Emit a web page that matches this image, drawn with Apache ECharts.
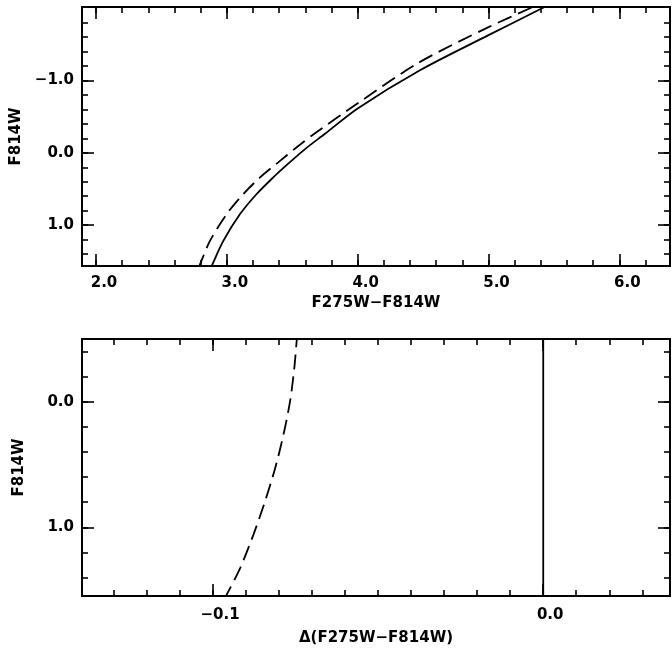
<!DOCTYPE html>
<html>
<head>
<meta charset="utf-8">
<script src="https://cdn.jsdelivr.net/npm/echarts@6/dist/echarts.min.js"></script>
<style>
html,body{margin:0;padding:0;background:#fff;}
#chart{width:672px;height:651px;}
</style>
</head>
<body>
<div id="chart"></div>
<script>
// ---- Top panel: F814W vs F275W-F814W ----
const topSolidColor = [2.875, 2.884, 2.973, 3.101, 3.228, 3.355, 3.467, 3.600, 3.750, 4.000, 4.476, 5.000, 5.394, 5.460];
const topSolidMag   = [1.600, 1.565, 1.218, 0.847, 0.569, 0.339, 0.153, -0.056, -0.264, -0.615, -1.143, -1.629, -1.986, -2.050];
const topDashColor  = [2.781, 2.790, 2.871, 2.999, 3.126, 3.254, 3.393, 3.534, 3.661, 4.000, 4.463, 5.000, 5.317, 5.374];
const topDashMag    = [1.600, 1.565, 1.218, 0.847, 0.569, 0.339, 0.131, -0.078, -0.254, -0.685, -1.244, -1.740, -2.000, -2.050];

// ---- Bottom panel: F814W vs Delta(F275W-F814W) ----
const botDashDelta = [-0.0744, -0.0747, -0.0754, -0.0767, -0.0787, -0.0812, -0.0843, -0.0878, -0.0918, -0.0959, -0.0971];
const botDashMag   = [-0.550, -0.477, -0.266, 0.000, 0.265, 0.530, 0.796, 1.060, 1.325, 1.538, 1.600];
const botRefDelta  = [0.0, 0.0];
const botRefMag    = [-0.550, 1.600];

// ---- Tick values and labels ----
const topXMajor = [2, 3, 4, 5, 6];
const topXLabels = ['2.0', '3.0', '4.0', '5.0', '6.0'];
const topXMinor = [2.0, 2.2, 2.4, 2.6, 2.8, 3.0, 3.2, 3.4, 3.6, 3.8, 4.0, 4.2, 4.4, 4.6, 4.8, 5.0, 5.2, 5.4, 5.6, 5.8, 6.0, 6.2];
const topYMajor = [-1, 0, 1];
const topYLabels = ['\u22121.0', '0.0', '1.0'];
const topYMinor = [-1.8, -1.6, -1.4, -1.2, -1.0, -0.8, -0.6, -0.4, -0.2, 0.0, 0.2, 0.4, 0.6, 0.8, 1.0, 1.2, 1.4];
const botXMajor = [-0.1, 0.0];
const botXLabels = ['\u22120.1', '0.0'];
const botXMinor = [-0.13, -0.12, -0.11, -0.10, -0.09, -0.08, -0.07, -0.06, -0.05, -0.04, -0.03, -0.02, -0.01, 0.00, 0.01, 0.02, 0.03];
const botYMajor = [0, 1];
const botYLabels = ['0.0', '1.0'];
const botYMinor = [-0.4, -0.2, 0.0, 0.2, 0.4, 0.6, 0.8, 1.0, 1.2, 1.4];

const xTitleTop = 'F275W\u2212F814W';
const xTitleBot = '\u0394(F275W\u2212F814W)';
const yTitle = 'F814W';

const FONT = 'DejaVu Sans';
const textStyle = {fontFamily: FONT, fontWeight: 'bold', fontSize: 15, color: '#000'};

function pair(a, b) { return a.map((v, i) => [v, b[i]]); }
function lookup(vals, labels) {
  return function (v) {
    for (let i = 0; i < vals.length; i++) if (Math.abs(vals[i] - v) < 1e-6) return labels[i];
    return '';
  };
}

function makeAxis(opts) {
  const a = {
    type: 'value',
    gridIndex: opts.grid,
    position: opts.position,
    min: opts.min, max: opts.max,
    inverse: !!opts.inverse,
    axisLine: {show: false, onZero: false},
    splitLine: {show: false},
    axisTick: {show: true, inside: true, length: opts.tickLen, customValues: opts.ticks,
               lineStyle: {color: '#000', width: 1.6}},
    axisLabel: {show: false}
  };
  if (opts.labels) {
    a.axisLabel = Object.assign({
      show: true,
      customValues: opts.labelValues,
      formatter: lookup(opts.labelValues, opts.labels),
      margin: opts.margin,
      showMinLabel: true, showMaxLabel: true
    }, textStyle, opts.labelExtra || {});
  }
  if (opts.name) {
    a.name = opts.name;
    a.nameLocation = 'middle';
    a.nameGap = opts.nameGap;
    a.nameRotate = opts.nameRotate;
    a.nameTextStyle = Object.assign({}, textStyle);
  }
  return a;
}

const topX = {min: 1.893, max: 6.387};
const topY = {min: -2.018, max: 1.565};
const botX = {min: -0.1397, max: 0.0384};
const botY = {min: -0.499, max: 1.547};

const xAxes = [];
const yAxes = [];
// grid 0 x axes
xAxes.push(makeAxis(Object.assign({grid: 0, position: 'bottom', tickLen: 12, ticks: topXMajor,
  labels: topXLabels, labelValues: topXMajor, margin: 10, labelExtra: {padding: [0, 0, 0, 16]},
  name: xTitleTop, nameGap: 30}, topX)));
xAxes.push(makeAxis(Object.assign({grid: 0, position: 'bottom', tickLen: 6, ticks: topXMinor}, topX)));
xAxes.push(makeAxis(Object.assign({grid: 0, position: 'top', tickLen: 12, ticks: topXMajor}, topX)));
xAxes.push(makeAxis(Object.assign({grid: 0, position: 'top', tickLen: 6, ticks: topXMinor}, topX)));
// grid 0 y axes
yAxes.push(makeAxis(Object.assign({grid: 0, position: 'left', inverse: true, tickLen: 12, ticks: topYMajor,
  labels: topYLabels, labelValues: topYMajor, margin: 8,
  name: yTitle, nameGap: 55, nameRotate: 90}, topY)));
yAxes.push(makeAxis(Object.assign({grid: 0, position: 'left', inverse: true, tickLen: 6, ticks: topYMinor}, topY)));
yAxes.push(makeAxis(Object.assign({grid: 0, position: 'right', inverse: true, tickLen: 12, ticks: topYMajor}, topY)));
yAxes.push(makeAxis(Object.assign({grid: 0, position: 'right', inverse: true, tickLen: 6, ticks: topYMinor}, topY)));
// grid 1 x axes
xAxes.push(makeAxis(Object.assign({grid: 1, position: 'bottom', tickLen: 12, ticks: botXMajor,
  labels: botXLabels, labelValues: botXMajor, margin: 12, labelExtra: {padding: [0, 0, 0, 14]},
  name: xTitleBot, nameGap: 35}, botX)));
xAxes.push(makeAxis(Object.assign({grid: 1, position: 'bottom', tickLen: 6, ticks: botXMinor}, botX)));
xAxes.push(makeAxis(Object.assign({grid: 1, position: 'top', tickLen: 12, ticks: botXMajor}, botX)));
xAxes.push(makeAxis(Object.assign({grid: 1, position: 'top', tickLen: 6, ticks: botXMinor}, botX)));
// grid 1 y axes
yAxes.push(makeAxis(Object.assign({grid: 1, position: 'left', inverse: true, tickLen: 12, ticks: botYMajor,
  labels: botYLabels, labelValues: botYMajor, margin: 8,
  name: yTitle, nameGap: 55, nameRotate: 90}, botY)));
yAxes.push(makeAxis(Object.assign({grid: 1, position: 'left', inverse: true, tickLen: 6, ticks: botYMinor}, botY)));
yAxes.push(makeAxis(Object.assign({grid: 1, position: 'right', inverse: true, tickLen: 12, ticks: botYMajor}, botY)));
yAxes.push(makeAxis(Object.assign({grid: 1, position: 'right', inverse: true, tickLen: 6, ticks: botYMinor}, botY)));

const lineBase = {type: 'line', showSymbol: false, symbol: 'none', clip: true, silent: true, animation: false};
const option = {
  animation: false,
  backgroundColor: '#fff',
  grid: [
    {left: 82, top: 7, width: 588, height: 259, show: true, borderColor: '#000', borderWidth: 2, backgroundColor: 'transparent'},
    {left: 82, top: 339, width: 588, height: 257, show: true, borderColor: '#000', borderWidth: 2, backgroundColor: 'transparent'}
  ],
  xAxis: xAxes,
  yAxis: yAxes,
  series: [
    Object.assign({}, lineBase, {name: 'solid', xAxisIndex: 0, yAxisIndex: 0, smooth: 0.3,
      data: pair(topSolidColor, topSolidMag), lineStyle: {color: '#000', width: 1.8, type: 'solid'}}),
    Object.assign({}, lineBase, {name: 'dashed', xAxisIndex: 0, yAxisIndex: 0, smooth: 0.3,
      data: pair(topDashColor, topDashMag), lineStyle: {color: '#000', width: 1.8, type: [15, 7]}}),
    Object.assign({}, lineBase, {name: 'delta dashed', xAxisIndex: 4, yAxisIndex: 4, smooth: 0.3,
      data: pair(botDashDelta, botDashMag), lineStyle: {color: '#000', width: 1.8, type: [15, 7]}}),
    Object.assign({}, lineBase, {name: 'delta ref', xAxisIndex: 4, yAxisIndex: 4,
      data: pair(botRefDelta, botRefMag), lineStyle: {color: '#000', width: 1.8, type: 'solid'}})
  ]
};
const chart = echarts.init(document.getElementById('chart'), null, {renderer: 'canvas'});
chart.setOption(option);
</script>
</body>
</html>
